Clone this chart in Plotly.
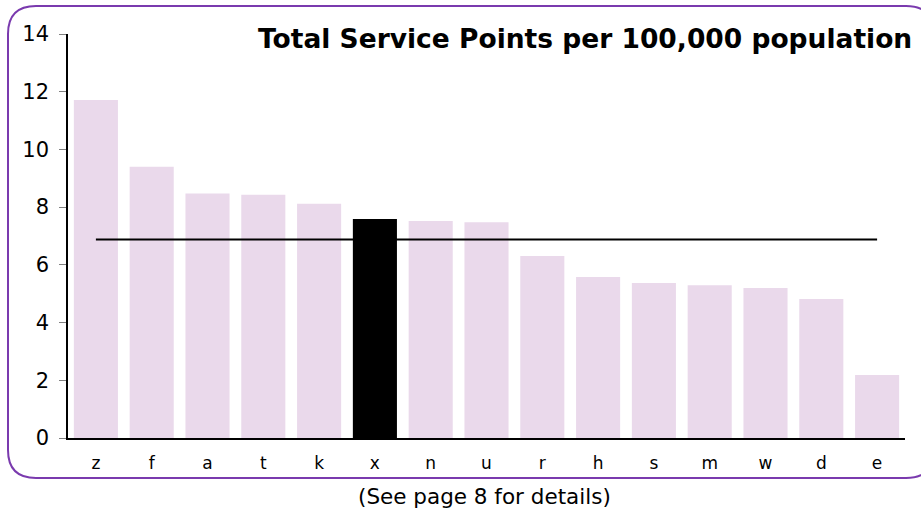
import plotly.graph_objects as go

categories = ["z", "f", "a", "t", "k", "x", "n", "u", "r", "h", "s", "m", "w", "d", "e"]
values = [11.71, 9.40, 8.47, 8.43, 8.12, 7.59, 7.52, 7.48, 6.31, 5.58, 5.37, 5.29, 5.20, 4.82, 2.18]
highlight = "x"
average = 6.88
y_ticks = [0, 2, 4, 6, 8, 10, 12, 14]
title_text = "Total Service Points per 100,000 population"
footer_text = "(See page 8 for details)"

W, H = 921, 508
ML, MR, MT, MB = 68, 16, 34, 70
PW, PH = W - ML - MR, H - MT - MB

colors = ["#000000" if c == highlight else "#EAD9EB" for c in categories]

fig = go.Figure()
fig.add_trace(go.Bar(x=categories, y=values, marker=dict(color=colors, line=dict(width=0)),
                     showlegend=False, hoverinfo="x+y"))
fig.add_trace(go.Scatter(x=[categories[0], categories[-1]], y=[average, average], mode="lines",
                         line=dict(color="#000000", width=2), showlegend=False))

def px(x):
    return (x - ML) / PW

def py(y):
    return (H - MB - y) / PH

# rounded border in pixel coordinates
L, R, T, B, r = 8, 934, 6, 478, 28
pts = (f"M {px(L)},{py(T + r)} Q {px(L)},{py(T)} {px(L + r)},{py(T)} "
       f"L {px(R - r)},{py(T)} Q {px(R)},{py(T)} {px(R)},{py(T + r)} "
       f"L {px(R)},{py(B - r)} Q {px(R)},{py(B)} {px(R - r)},{py(B)} "
       f"L {px(L + r)},{py(B)} Q {px(L)},{py(B)} {px(L)},{py(B - r)} Z")
fig.add_shape(type="path", path=pts, xref="paper", yref="paper",
              line=dict(color="#7A3AAE", width=2), layer="below")

fig.add_annotation(text=f"<b>{title_text}</b>", xref="paper", yref="paper",
                   x=px(914), y=py(38), xanchor="right", yanchor="middle", showarrow=False,
                   font=dict(size=26.5, color="#000000", family="DejaVu Sans"))
fig.add_annotation(text=footer_text, xref="paper", yref="paper",
                   x=px(484), y=py(497), xanchor="center", yanchor="middle", showarrow=False,
                   font=dict(size=21.5, color="#000000", family="DejaVu Sans"))

fig.update_layout(
    width=W, height=H,
    margin=dict(l=ML, r=MR, t=MT, b=MB),
    paper_bgcolor="#FFFFFF", plot_bgcolor="#FFFFFF",
    bargap=0.21,
    font=dict(family="DejaVu Sans", color="#000000"),
    xaxis=dict(range=[-0.5, len(categories) - 0.5], showline=True, linecolor="#000000", linewidth=1.5,
               ticks="", showgrid=False, zeroline=False, tickfont=dict(size=17), ticklabelstandoff=9,
               fixedrange=True),
    yaxis=dict(range=[0, 14], tickvals=y_ticks, showline=True, linecolor="#000000", linewidth=1.5,
               ticks="outside", ticklen=7, tickcolor="#808080", showgrid=False, zeroline=False,
               tickfont=dict(size=21), ticklabelstandoff=6, fixedrange=True),
)

fig.write_html("out.html", config={"displayModeBar": False},
               post_script="document.body.style.margin='0';")
